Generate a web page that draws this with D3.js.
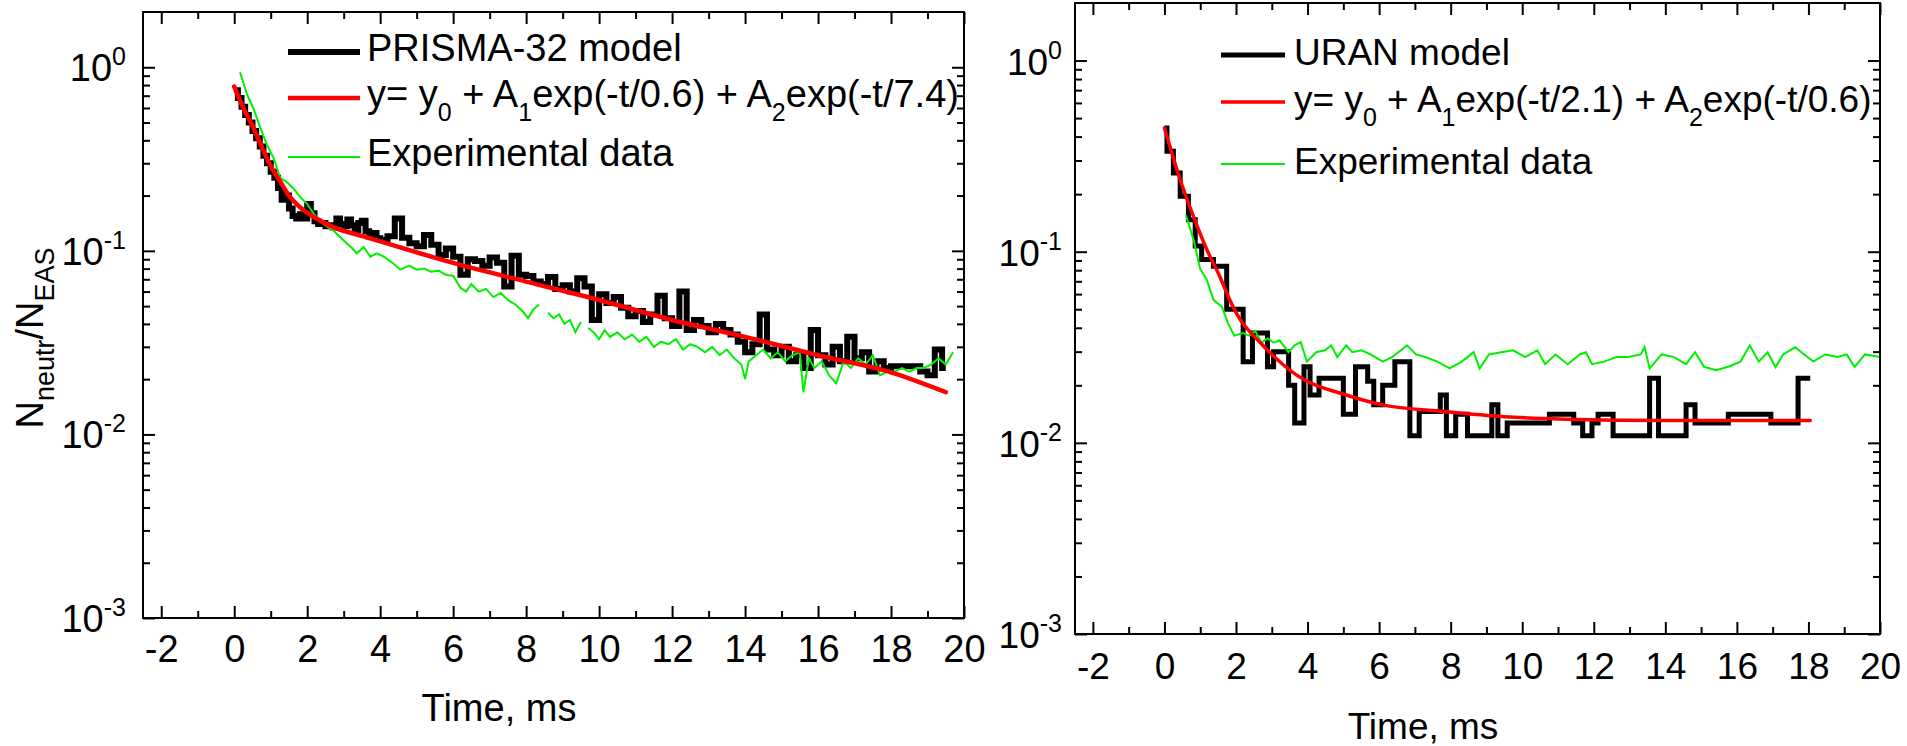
<!DOCTYPE html>
<html>
<head>
<meta charset="utf-8">
<script src="https://cdn.jsdelivr.net/npm/d3@7"></script>
<style>
  html, body { margin: 0; padding: 0; background: #fff; }
  svg { display: block; font-family: 'Liberation Sans', Arial, sans-serif; }
  text { white-space: pre; }
</style>
</head>
<body>
<svg id="chart" width="1907" height="746"></svg>
<script>
// ---- shared axes ----
const xMajorTicks = [-2, 0, 2, 4, 6, 8, 10, 12, 14, 16, 18, 20];
const xMinorTicks = [-1, 1, 3, 5, 7, 9, 11, 13, 15, 17, 19];
const yDecades = [0.001, 0.01, 0.1, 1];
const yExponents = ['-3', '-2', '-1', '0'];
const xTitle = 'Time, ms';

// ---- left panel: PRISMA-32 ----
// model histogram, bin starts (ms) and values
const prismaBinT = [
  0.0, 0.1, 0.2, 0.3, 0.4, 0.5, 0.6, 0.7, 0.8, 0.9, 1.0, 1.1, 1.2, 1.3, 1.4, 1.5, 1.6, 1.7, 1.8, 1.9,
  2.0, 2.1, 2.2, 2.3, 2.4, 2.5, 2.6, 2.7, 2.8, 2.9, 3.0, 3.1, 3.2, 3.3, 3.4, 3.5, 3.6, 3.7, 3.8, 3.9,
  4.0, 4.2, 4.4, 4.6, 4.8, 5.0, 5.2, 5.4, 5.6, 5.8, 6.0, 6.2, 6.4, 6.6, 6.8, 7.0, 7.2, 7.4, 7.6, 7.8,
  8.0, 8.2, 8.4, 8.6, 8.8, 9.0, 9.2, 9.4, 9.6, 9.8, 10.0, 10.2, 10.4, 10.6, 10.8, 11.0, 11.2, 11.4, 11.6, 11.8,
  12.0, 12.2, 12.4, 12.6, 12.8, 13.0, 13.2, 13.4, 13.6, 13.8, 14.0, 14.2, 14.4, 14.6, 14.8, 15.0, 15.2, 15.4, 15.6, 15.8,
  16.0, 16.2, 16.4, 16.6, 16.8, 17.0, 17.2, 17.4, 17.6, 17.8, 18.0, 18.2, 18.4, 18.6, 18.8, 19.0, 19.2, 19.4, 19.5,
];
const prismaBinV = [
  0.75, 0.68, 0.61, 0.55, 0.5, 0.45, 0.41, 0.37, 0.33, 0.30, 0.27, 0.25, 0.22, 0.19, 0.2, 0.17, 0.155, 0.15, 0.158, 0.15,
  0.18, 0.16, 0.145, 0.14, 0.142, 0.136, 0.138, 0.134, 0.15, 0.14, 0.136, 0.148, 0.138, 0.13, 0.142, 0.146, 0.128, 0.12, 0.125, 0.117,
  0.115, 0.12, 0.15, 0.118, 0.11, 0.106, 0.122, 0.108, 0.095, 0.103, 0.093, 0.074, 0.09, 0.088, 0.083, 0.092, 0.086, 0.064, 0.094, 0.074,
  0.073, 0.068, 0.066, 0.072, 0.062, 0.065, 0.06, 0.071, 0.064, 0.042, 0.058, 0.052, 0.056, 0.049, 0.044, 0.047, 0.041, 0.045, 0.057, 0.043,
  0.039, 0.06, 0.037, 0.042, 0.039, 0.036, 0.04, 0.037, 0.035, 0.032, 0.028, 0.031, 0.045, 0.029, 0.027, 0.03, 0.025, 0.027, 0.023, 0.037,
  0.027, 0.024, 0.03, 0.025, 0.034, 0.026, 0.028, 0.022, 0.025, 0.023, 0.0235, 0.0235, 0.0235, 0.0235, 0.022, 0.021, 0.029, 0.023, 0.023,
];
// fit curve
const prismaFitT = [0, 0.25, 0.5, 0.75, 1.0, 1.25, 1.5, 1.8, 2.25, 2.7, 3.6, 4.5, 6, 8, 10, 12, 14, 16, 18, 19.5];
const prismaFitV = [0.785, 0.6, 0.48, 0.37, 0.29, 0.24, 0.2, 0.173, 0.15, 0.135, 0.119, 0.105, 0.086, 0.068, 0.054, 0.042, 0.034, 0.027, 0.0218, 0.017];
// experimental data (null = gap)
const prismaExpT = [
  0.16, 0.34, 0.52, 0.71, 0.89, 1.08, 1.26, 1.44, 1.63, 1.81, 1.99, 2.17, 2.36, 2.54, 2.72, 2.9, 3.08, 3.22, 3.36, 3.55,
  3.73, 3.9, 4.1, 4.37, 4.55, 4.8, 5.0, 5.2, 5.4, 5.6, 5.8, 6.0, 6.2, 6.35, 6.5, 6.7, 6.9, 7.1, 7.3, 7.5,
  7.7, 7.9, 8.05, 8.2, 8.35, 8.45, 8.6, 8.75, 8.9, 9.05, 9.2, 9.35, 9.5, 9.6, 9.7, 9.85, 10.0, 10.15, 10.3, 10.5,
  10.7, 10.9, 11.1, 11.3, 11.5, 11.7, 11.9, 12.1, 12.3, 12.5, 12.7, 12.9, 13.1, 13.3, 13.5, 13.7, 13.9, 14.0, 14.1, 14.3,
  14.5, 14.7, 14.9, 15.1, 15.3, 15.5, 15.6, 15.75, 15.9, 16.1, 16.3, 16.5, 16.7, 16.9, 17.1, 17.3, 17.5, 17.7, 17.9, 18.1,
  18.3, 18.5, 18.7, 18.9, 19.1, 19.3, 19.5, 19.7,
];
const prismaExpV = [
  0.94, 0.72, 0.6, 0.47, 0.38, 0.32, 0.25, 0.237, 0.218, 0.196, 0.181, 0.16, 0.144, 0.136, 0.129, 0.119, 0.11, 0.104, 0.097, 0.105,
  0.093, 0.097, 0.093, 0.085, 0.079, 0.083, 0.079, 0.08, 0.077, 0.078, 0.074, 0.073, 0.063, 0.06, 0.066, 0.06, 0.062, 0.056, 0.059, 0.054,
  0.051, 0.047, 0.043, 0.048, 0.051, null, 0.046, 0.043, 0.045, 0.04, 0.042, 0.036, 0.041, null, 0.038, 0.036, 0.033, 0.037, 0.034, 0.036,
  0.033, 0.035, 0.032, 0.034, 0.03, 0.032, 0.031, 0.033, 0.029, 0.031, 0.03, 0.028, 0.03, 0.027, 0.029, 0.026, 0.024, 0.02, 0.025, 0.027,
  0.029, 0.026, 0.028, 0.025, 0.027, 0.028, 0.017, 0.026, 0.023, 0.025, 0.021, 0.019, 0.025, 0.023, 0.026, 0.024, 0.027, 0.021, 0.022, 0.022,
  0.023, 0.022, 0.023, 0.023, 0.024, 0.026, 0.024, 0.028,
];
const prismaLegend = [
  [{ t: 'PRISMA-32 model' }],
  [{ t: 'y= y' }, { t: '0', sub: true }, { t: ' + A' }, { t: '1', sub: true }, { t: 'exp(-t/0.6) + A' }, { t: '2', sub: true }, { t: 'exp(-t/7.4)' }],
  [{ t: 'Experimental data' }],
];

// ---- right panel: URAN ----
const uranBinT = [
  0, 0.07, 0.25, 0.44, 0.67, 0.86, 1.04, 1.37, 1.74, 2.2, 2.46, 2.88, 3.05, 3.47, 3.64, 3.9, 4.07, 4.32, 5.0, 5.34,
  5.68, 5.85, 6.1, 6.44, 6.86, 7.12, 7.71, 7.88, 8.14, 8.47, 9.15, 9.32, 9.58, 10.76, 11.44, 11.69, 11.95, 12.12, 12.54, 13.56,
  13.81, 14.58, 14.83, 15.76, 16.95, 17.71, 18.05,
];
const uranBinV = [
  0.444, 0.335, 0.258, 0.195, 0.147, 0.107, 0.091, 0.084, 0.05, 0.0266, 0.0375, 0.025, 0.03, 0.02, 0.0127, 0.025, 0.0178, 0.0218, 0.0141, 0.025,
  0.021, 0.0158, 0.02, 0.0266, 0.0109, 0.0146, 0.0178, 0.0109, 0.0141, 0.0109, 0.0158, 0.0109, 0.0127, 0.0141, 0.0127, 0.0109, 0.0127, 0.0141, 0.0109, 0.0218,
  0.0109, 0.0158, 0.0127, 0.0141, 0.0127, 0.0218, 0.0218,
];
const uranFitT = [0, 0.44, 0.81, 1.18, 1.55, 1.78, 2.03, 2.71, 3.73, 5.08, 6.1, 7.8, 9.5, 11.2, 14, 18.05];
const uranFitV = [0.444, 0.238, 0.153, 0.103, 0.074, 0.0585, 0.047, 0.033, 0.0224, 0.0178, 0.0158, 0.0146, 0.0137, 0.0133, 0.0131, 0.0131];
const uranExpT = [
  0.6, 0.81, 1.0, 1.18, 1.37, 1.61, 1.78, 1.95, 2.2, 2.37, 2.54, 2.71, 2.88, 3.05, 3.22, 3.47, 3.64, 3.81, 3.98, 4.24,
  4.49, 4.66, 4.83, 5.08, 5.25, 5.51, 5.76, 6.1, 6.36, 6.61, 6.78, 7.03, 7.29, 7.63, 7.97, 8.31, 8.64, 8.81, 9.07, 9.41,
  9.75, 10.08, 10.42, 10.64, 10.93, 11.27, 11.61, 11.78, 11.95, 12.29, 12.63, 12.97, 13.31, 13.42, 13.56, 13.9, 14.24, 14.58, 14.83, 15.08,
  15.42, 15.76, 16.1, 16.36, 16.61, 16.86, 17.08, 17.29, 17.63, 17.88, 18.14, 18.47, 18.81, 19.07, 19.29, 19.58, 20,
];
const uranExpV = [
  0.155, 0.116, 0.081, 0.0715, 0.056, 0.0513, 0.042, 0.0364, 0.0375, 0.0364, 0.0385, 0.0334, 0.0353, 0.0334, 0.0343, 0.0298, 0.0324, 0.0337, 0.0266, 0.0298,
  0.0305, 0.0324, 0.0281, 0.0324, 0.0298, 0.0305, 0.029, 0.0266, 0.0281, 0.0305, 0.0324, 0.029, 0.0281, 0.0266, 0.0245, 0.0266, 0.0298, 0.0245, 0.029, 0.0298,
  0.0305, 0.0281, 0.0305, 0.0258, 0.029, 0.0258, 0.029, 0.0298, 0.0258, 0.0266, 0.0281, 0.0281, 0.029, 0.0317, 0.0245, 0.029, 0.0281, 0.0258, 0.0298, 0.025,
  0.024, 0.025, 0.0266, 0.0324, 0.0266, 0.0298, 0.0249, 0.029, 0.0316, 0.029, 0.0266, 0.029, 0.0281, 0.029, 0.0249, 0.029, 0.0281,
];
const uranLegend = [
  [{ t: 'URAN model' }],
  [{ t: 'y= y' }, { t: '0', sub: true }, { t: ' + A' }, { t: '1', sub: true }, { t: 'exp(-t/2.1) + A' }, { t: '2', sub: true }, { t: 'exp(-t/0.6)' }],
  [{ t: 'Experimental data' }],
];

const zip = (ts, vs) => ts.map((t, i) => ({ t, v: vs[i] }));

const svg = d3.select('#chart');
const GREEN = '#00f000';
const RED = '#ff0000';

function drawPanel(cfg) {
  const x = d3.scaleLinear().domain([-2.5, 20]).range([cfg.left, cfg.right]);
  const y = d3.scaleLog().domain([0.001, 2]).range([cfg.bottom, cfg.top]);
  const g = svg.append('g');
  const font = cfg.font;

  const yMinor = [];
  yDecades.forEach((d) => {
    for (let k = 2; k <= 9; k += 1) {
      if (k * d < 2) yMinor.push(k * d);
    }
  });

  // series
  const stepLine = d3.line()
    .x((d) => x(d.t))
    .y((d) => y(d.v))
    .curve(d3.curveStepAfter);
  const smooth = d3.line()
    .x((d) => x(d.t))
    .y((d) => y(d.v))
    .curve(d3.curveMonotoneX);
  const jagged = d3.line()
    .defined((d) => d.v != null)
    .x((d) => x(d.t))
    .y((d) => y(d.v));

  g.append('path')
    .datum(zip(cfg.binT, cfg.binV))
    .attr('fill', 'none')
    .attr('stroke', '#000')
    .attr('stroke-width', cfg.blackWidth)
    .attr('d', stepLine);

  g.append('path')
    .datum(zip(cfg.expT, cfg.expV))
    .attr('fill', 'none')
    .attr('stroke', GREEN)
    .attr('stroke-width', 2)
    .attr('d', jagged);

  g.append('path')
    .datum(zip(cfg.fitT, cfg.fitV))
    .attr('fill', 'none')
    .attr('stroke', RED)
    .attr('stroke-width', cfg.redWidth)
    .attr('stroke-linecap', 'round')
    .attr('d', smooth);

  // ticks on all four sides, pointing inward
  const addAxis = (axis, transform) => {
    const a = g.append('g').attr('transform', transform).call(axis);
    a.select('.domain').remove();
    a.selectAll('line').attr('stroke', '#000').attr('stroke-width', 2);
    a.attr('font-family', null).attr('font-size', font);
    a.selectAll('text').attr('fill', '#000');
    return a;
  };
  const bottom = `translate(0,${cfg.bottom})`;
  const top = `translate(0,${cfg.top})`;
  const leftT = `translate(${cfg.left},0)`;
  const rightT = `translate(${cfg.right},0)`;

  addAxis(d3.axisBottom(x).tickValues(xMajorTicks).tickSizeInner(-12).tickSizeOuter(0)
    .tickPadding(cfg.xLabelPad).tickFormat((d) => String(d)), bottom);
  addAxis(d3.axisBottom(x).tickValues(xMinorTicks).tickSize(-7).tickFormat(''), bottom);
  addAxis(d3.axisTop(x).tickValues(xMajorTicks).tickSize(-12).tickFormat(''), top);
  addAxis(d3.axisTop(x).tickValues(xMinorTicks).tickSize(-7).tickFormat(''), top);
  addAxis(d3.axisLeft(y).tickValues(yDecades).tickSize(-12).tickFormat(''), leftT);
  addAxis(d3.axisLeft(y).tickValues(yMinor).tickSize(-7).tickFormat(''), leftT);
  addAxis(d3.axisRight(y).tickValues(yDecades).tickSize(-12).tickFormat(''), rightT);
  addAxis(d3.axisRight(y).tickValues(yMinor).tickSize(-7).tickFormat(''), rightT);

  // y labels as 10 with superscript exponent
  yDecades.forEach((d, i) => {
    const t = g.append('text')
      .attr('x', cfg.left - cfg.yLabelGap)
      .attr('y', y(d) + 14)
      .attr('text-anchor', 'end')
      .attr('font-size', font);
    t.append('tspan').text('10');
    t.append('tspan').attr('dy', -16).attr('font-size', 25).text(yExponents[i]);
  });

  // frame
  g.append('rect')
    .attr('x', cfg.left)
    .attr('y', cfg.top)
    .attr('width', cfg.right - cfg.left)
    .attr('height', cfg.bottom - cfg.top)
    .attr('fill', 'none')
    .attr('stroke', '#000')
    .attr('stroke-width', 2);

  // x title
  g.append('text')
    .attr('x', cfg.xTitleX)
    .attr('y', cfg.xTitleY)
    .attr('text-anchor', 'middle')
    .attr('font-size', font)
    .text(xTitle);

  // legend
  const legendStyle = [
    { stroke: '#000', width: cfg.blackWidth },
    { stroke: RED, width: cfg.redWidth },
    { stroke: GREEN, width: 2 },
  ];
  cfg.legend.forEach((parts, i) => {
    const ly = cfg.legendY[i];
    g.append('line')
      .attr('x1', cfg.legendX[0])
      .attr('x2', cfg.legendX[1])
      .attr('y1', ly)
      .attr('y2', ly)
      .attr('stroke', legendStyle[i].stroke)
      .attr('stroke-width', legendStyle[i].width);
    const t = g.append('text')
      .attr('x', cfg.legendX[2])
      .attr('y', ly + cfg.legendBase)
      .attr('font-size', font);
    let shifted = false;
    parts.forEach((p) => {
      const s = t.append('tspan').text(p.t);
      if (p.sub) {
        s.attr('dy', 14).attr('font-size', 25);
        shifted = true;
      } else if (shifted) {
        s.attr('dy', -14);
        shifted = false;
      }
    });
  });

  return g;
}

drawPanel({
  left: 143, right: 964, top: 12, bottom: 618, font: 38,
  binT: prismaBinT, binV: prismaBinV,
  fitT: prismaFitT, fitV: prismaFitV,
  expT: prismaExpT, expV: prismaExpV,
  legend: prismaLegend,
  legendX: [288, 360, 367], legendY: [52, 98, 157], legendBase: 9,
  blackWidth: 6, redWidth: 4.5,
  xLabelPad: 17, yLabelGap: 17,
  xTitleX: 499, xTitleY: 721,
});

drawPanel({
  left: 1075, right: 1880, top: 3, bottom: 634, font: 37,
  binT: uranBinT, binV: uranBinV,
  fitT: uranFitT, fitV: uranFitV,
  expT: uranExpT, expV: uranExpV,
  legend: uranLegend,
  legendX: [1221, 1285, 1294], legendY: [55, 102, 164], legendBase: 10,
  blackWidth: 5, redWidth: 3.5,
  xLabelPad: 19, yLabelGap: 13,
  xTitleX: 1423, xTitleY: 739,
});

// left y-axis title: N_neutr / N_EAS, rotated
const yTitle = svg.append('text')
  .attr('transform', 'translate(43,338) rotate(-90)')
  .attr('text-anchor', 'middle')
  .attr('font-size', 38);
yTitle.append('tspan').text('N');
yTitle.append('tspan').attr('dy', 11).attr('font-size', 27).text('neutr');
yTitle.append('tspan').attr('dy', -11).text('/N');
yTitle.append('tspan').attr('dy', 11).attr('font-size', 27).text('EAS');
</script>
</body>
</html>
